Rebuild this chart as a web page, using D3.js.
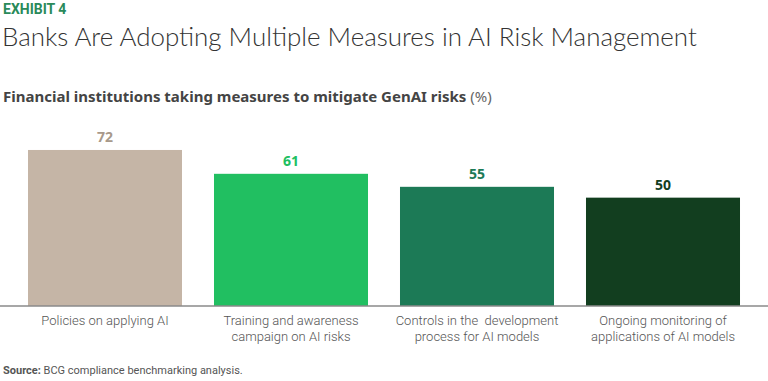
<!DOCTYPE html>
<html>
<head>
<meta charset="utf-8">
<script src="https://cdn.jsdelivr.net/npm/d3@7"></script>
<style>
  body { margin: 0; background: #fff; }
  svg { display: block; }
</style>
</head>
<body>
<div id="chart"></div>
<script>
// data
var categories = [
  ["Policies on applying AI"],
  ["Training and awareness", "campaign on AI risks"],
  ["Controls in the  development", "process for AI models"],
  ["Ongoing monitoring of", "applications of AI models"]
];
var values = [72, 61, 55, 50];
var barColors = ["#c5b5a6", "#21bf61", "#1c7a56", "#123e1f"];
var labelColors = ["#a8998a", "#21bf61", "#1c7a56", "#123e1f"];

var width = 768, height = 381;
var labelFont = "Roboto, sans-serif";

var svg = d3.select("#chart").append("svg")
  .attr("width", width)
  .attr("height", height);

// header
svg.append("text")
  .attr("x", 3).attr("y", 14)
  .attr("font-family", "Roboto, sans-serif")
  .attr("font-weight", "bold")
  .attr("font-size", 14)
  .attr("fill", "#2a8a5a")
  .text("EXHIBIT 4");

var title = svg.append("text")
  .attr("x", 2).attr("y", 46)
  .attr("font-family", "Lato, sans-serif")
  .attr("font-weight", 300)
  .attr("font-size", 24)
  .attr("fill", "#333")
  .text("Banks Are Adopting Multiple Measures in AI Risk Management");
// fit title to the width it has in the picture
var tw = title.node().getComputedTextLength();
title.attr("font-size", 24 * 695 / tw);

var sub = svg.append("text")
  .attr("x", 3).attr("y", 102)
  .attr("font-family", "'Noto Sans', sans-serif")
  .attr("font-size", 15)
  .attr("fill", "#444");
sub.append("tspan").attr("font-weight", "bold")
  .text("Financial institutions taking measures to mitigate GenAI risks ");
sub.append("tspan").attr("fill", "#666").text("(%)");

// scales
var x = d3.scaleBand()
  .domain(d3.range(values.length))
  .range([12, 756])
  .paddingInner(0.172)
  .paddingOuter(0.086);

var y = d3.scaleLinear()
  .domain([0, 100])
  .range([306, 89.3]);

svg.selectAll("rect.bar")
  .data(values)
  .enter()
  .append("rect")
  .attr("class", "bar")
  .attr("x", function(d, i) { return x(i); })
  .attr("y", function(d) { return y(d); })
  .attr("width", x.bandwidth())
  .attr("height", function(d) { return y(0) - y(d); })
  .attr("fill", function(d, i) { return barColors[i]; });

svg.selectAll("text.val")
  .data(values)
  .enter()
  .append("text")
  .attr("class", "val")
  .attr("x", function(d, i) { return x(i) + x.bandwidth() / 2; })
  .attr("y", function(d) { return y(d) - 8; })
  .attr("text-anchor", "middle")
  .attr("font-family", "'Noto Sans', sans-serif")
  .attr("font-weight", "bold")
  .attr("font-size", 14)
  .attr("fill", function(d, i) { return labelColors[i]; })
  .text(function(d) { return d; });

// x axis
var axis = svg.append("g")
  .attr("transform", "translate(0," + y(0) + ")")
  .call(d3.axisBottom(x).tickSize(0).tickFormat(""));
axis.select(".domain").remove();
axis.append("line")
  .attr("x1", 0).attr("x2", width)
  .attr("stroke", "#8a8a8a")
  .attr("stroke-width", 1.5);

axis.selectAll(".tick text").remove();
axis.selectAll(".tick").append("text")
  .attr("text-anchor", "middle")
  .attr("font-family", labelFont)
  .attr("font-weight", 300)
  .attr("font-size", 13)
  .attr("fill", "#555")
  .attr("xml:space", "preserve")
  .each(function(d) {
    var t = d3.select(this);
    categories[d].forEach(function(line, k) {
      t.append("tspan").attr("x", 0).attr("y", 19 + k * 15.5).text(line);
    });
  });

// source
var src = svg.append("text")
  .attr("x", 3).attr("y", 374)
  .attr("font-family", labelFont)
  .attr("font-size", 11)
  .attr("fill", "#555");
src.append("tspan").attr("font-weight", "bold").text("Source: ");
src.append("tspan").text("BCG compliance benchmarking analysis.");
</script>
</body>
</html>
